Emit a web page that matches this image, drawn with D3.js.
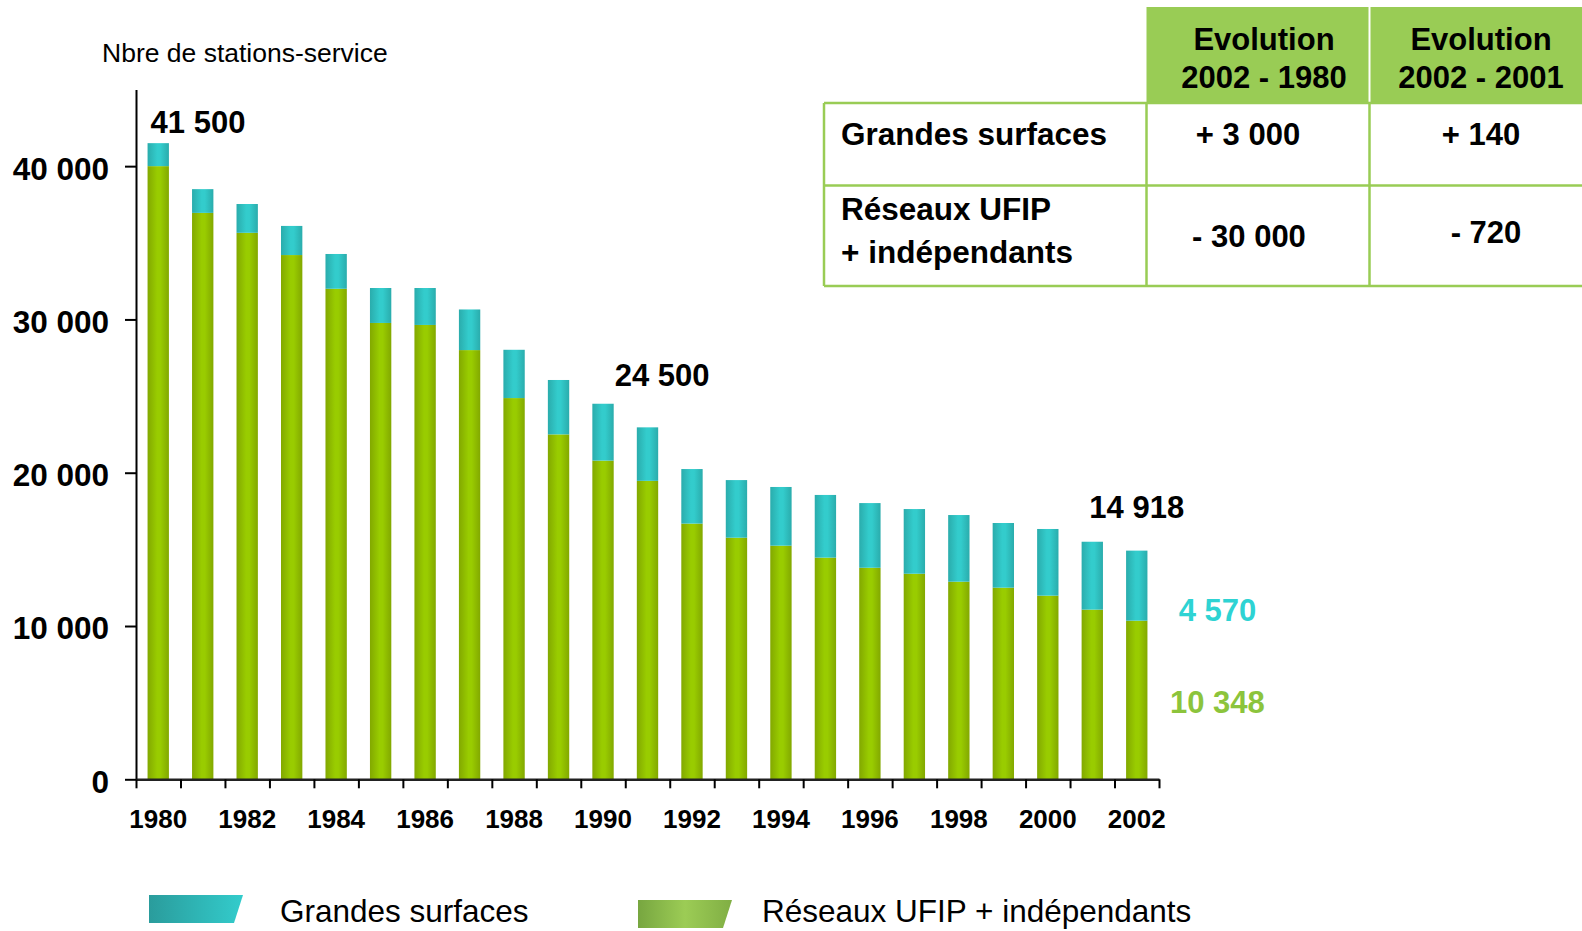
<!DOCTYPE html>
<html>
<head>
<meta charset="utf-8">
<script src="https://cdn.jsdelivr.net/npm/d3@7"></script>
<style>
  body { margin: 0; background: #ffffff; }
  text { font-family: "Liberation Sans", Arial, sans-serif; }
</style>
</head>
<body>
<div id="chart-area"></div>
<script>
// donnees
var years = ["1980", "1981", "1982", "1983", "1984", "1985", "1986", "1987", "1988", "1989", "1990", "1991",
  "1992", "1993", "1994", "1995", "1996", "1997", "1998", "1999", "2000", "2001", "2002"];
var reseaux = [40000, 36950, 35650, 34200, 32000, 29770, 29640, 28000, 24870, 22500, 20790, 19470,
  16680, 15760, 15240, 14460, 13800, 13410, 12890, 12500, 11980, 11068, 10348];
var grandes = [1500, 1550, 1880, 1900, 2270, 2280, 2410, 2650, 3150, 3550, 3710, 3490,
  3560, 3760, 3830, 4090, 4220, 4220, 4350, 4220, 4350, 4430, 4570];
var yTicks = [0, 10000, 20000, 30000, 40000];
var xLabels = ["1980", "1982", "1984", "1986", "1988", "1990", "1992", "1994", "1996", "1998", "2000", "2002"];
var seriesNames = ["Grandes surfaces", "Réseaux UFIP + indépendants"];

var colHeads = [["Evolution", "2002 - 1980"], ["Evolution", "2002 - 2001"]];
var rowHeads = [["Grandes surfaces"], ["Réseaux UFIP", "+ indépendants"]];
var evolutions = [["+ 3 000", "+ 140"], ["- 30 000", "- 720"]];

var W = 1582, H = 931;
var fr = d3.formatLocale({ decimal: ",", thousands: " ", grouping: [3], currency: ["", " €"] });
var fmt = fr.format(",");

var svg = d3.select("#chart-area")
  .append("svg")
  .attr("width", W)
  .attr("height", H);

var defs = svg.append("defs");
function hGrad(id, stops) {
  var g = defs.append("linearGradient").attr("id", id)
    .attr("x1", "0%").attr("x2", "100%").attr("y1", "0%").attr("y2", "0%");
  stops.forEach(function (s) {
    g.append("stop").attr("offset", s[0]).attr("stop-color", s[1]);
  });
}
hGrad("gGreen", [["0%", "#82a800"], ["45%", "#99cc00"], ["60%", "#99cc00"], ["100%", "#82a800"]]);
hGrad("gCyan", [["0%", "#2aacac"], ["45%", "#33cccc"], ["60%", "#33cccc"], ["100%", "#2aacac"]]);
hGrad("lCyan", [["0%", "#2a9c9c"], ["100%", "#33cccc"]]);
hGrad("lGreen", [["0%", "#77a640"], ["50%", "#9ccc55"], ["100%", "#80ae44"]]);

var colorFill = { reseaux: "url(#gGreen)", grandes: "url(#gCyan)" };

var rows = years.map(function (y, i) {
  return { year: y, reseaux: reseaux[i], grandes: grandes[i] };
});
var stacked = d3.stack().keys(["reseaux", "grandes"])(rows);

var xscale = d3.scaleBand()
  .domain(years)
  .range([136, 1159])
  .paddingInner(0.52)
  .paddingOuter(0.26);
var xIdx = d3.scaleLinear().domain([0, years.length]).range([136, 1159]);
var yscale = d3.scaleLinear().domain([0, 45000]).range([779.3, 89.5]);

// barres empilees
svg.append("g")
  .selectAll("g")
  .data(stacked)
  .enter()
  .append("g")
  .attr("fill", function (d) { return colorFill[d.key]; })
  .selectAll("rect")
  .data(function (d) { return d; })
  .enter()
  .append("rect")
  .attr("x", function (d) { return xscale(d.data.year); })
  .attr("width", xscale.bandwidth())
  .attr("y", function (d) { return yscale(d[1]); })
  .attr("height", function (d) { return yscale(d[0]) - yscale(d[1]); });

// axe Y
var yAxis = d3.axisLeft(yscale)
  .tickValues(yTicks)
  .tickSize(11)
  .tickSizeOuter(0)
  .tickPadding(16)
  .tickFormat(fmt);
var gy = svg.append("g").attr("transform", "translate(136,0)").call(yAxis);
gy.select(".domain").attr("stroke", "#000").attr("stroke-width", 2);
gy.selectAll(".tick line").attr("stroke", "#000").attr("stroke-width", 2);
gy.selectAll(".tick text")
  .attr("fill", "#000")
  .attr("font-size", "31.5px")
  .attr("font-weight", "bold")
  .attr("dy", "0.41em");

// axe X : graduations entre les annees
var xTickAxis = d3.axisBottom(xIdx)
  .tickValues(d3.range(0, years.length + 1))
  .tickSize(9)
  .tickSizeOuter(0)
  .tickFormat("");
var gx = svg.append("g").attr("transform", "translate(0,779.3)").call(xTickAxis);
gx.select(".domain").attr("stroke", "#222").attr("stroke-width", 2.5);
gx.selectAll(".tick line").attr("stroke", "#000").attr("stroke-width", 2);

var xAxis = d3.axisBottom(xscale)
  .tickValues(xLabels)
  .tickSize(0)
  .tickSizeOuter(0);
var gxl = svg.append("g").attr("transform", "translate(0,779.3)").call(xAxis);
gxl.select(".domain").remove();
gxl.selectAll(".tick text")
  .attr("y", 49)
  .attr("dy", 0)
  .attr("fill", "#000")
  .attr("font-size", "26px")
  .attr("font-weight", "bold");

// titre axe
svg.append("text")
  .attr("x", 102)
  .attr("y", 62)
  .attr("font-size", "26.5px")
  .attr("fill", "#000")
  .text("Nbre de stations-service");

// etiquettes de valeurs
var i80 = 0, i90 = years.indexOf("1990"), i02 = years.length - 1;
svg.append("text")
  .attr("x", xscale(years[i80]) + 3)
  .attr("y", yscale(reseaux[i80] + grandes[i80]) - 10)
  .attr("font-size", "31px").attr("font-weight", "bold").attr("fill", "#000")
  .text(fmt(41500));
svg.append("text")
  .attr("x", xscale(years[i90]) + xscale.bandwidth() + 1)
  .attr("y", yscale(24500) - 18)
  .attr("font-size", "31px").attr("font-weight", "bold").attr("fill", "#000")
  .text(fmt(24500));
svg.append("text")
  .attr("x", xscale(years[i02]) + xscale.bandwidth() / 2)
  .attr("y", yscale(reseaux[i02] + grandes[i02]) - 33)
  .attr("text-anchor", "middle")
  .attr("font-size", "31px").attr("font-weight", "bold").attr("fill", "#000")
  .text(fmt(reseaux[i02] + grandes[i02]));
svg.append("text")
  .attr("x", xscale(years[i02]) + xscale.bandwidth() + 70)
  .attr("y", yscale(reseaux[i02] + grandes[i02] / 2) + 35)
  .attr("text-anchor", "middle")
  .attr("font-size", "31px").attr("font-weight", "bold").attr("fill", "#2ed3d3")
  .text(fmt(grandes[i02]));
svg.append("text")
  .attr("x", xscale(years[i02]) + xscale.bandwidth() + 70)
  .attr("y", yscale(reseaux[i02] / 2) + 13)
  .attr("text-anchor", "middle")
  .attr("font-size", "31px").attr("font-weight", "bold").attr("fill", "#8cc43c")
  .text(fmt(reseaux[i02]));

// tableau d'evolution
var tbl = svg.append("g");
var colX = [824, 1146.5, 1369.5, W];
var rowY = [103, 185.5, 286];
var green = "#99cc55";
tbl.append("rect")
  .attr("x", colX[1]).attr("y", 7)
  .attr("width", W - colX[1]).attr("height", rowY[0] - 7)
  .attr("fill", green);
tbl.append("line")
  .attr("x1", colX[2]).attr("x2", colX[2]).attr("y1", 7).attr("y2", rowY[0])
  .attr("stroke", "#ffffff").attr("stroke-width", 2);
rowY.forEach(function (y) {
  tbl.append("line")
    .attr("x1", colX[0]).attr("x2", W).attr("y1", y).attr("y2", y)
    .attr("stroke", green).attr("stroke-width", 2.5);
});
colX.slice(0, 3).forEach(function (x) {
  tbl.append("line")
    .attr("x1", x).attr("x2", x).attr("y1", rowY[0]).attr("y2", rowY[2])
    .attr("stroke", green).attr("stroke-width", 2.5);
});

var colCx = [1264, 1481];
colHeads.forEach(function (lines, c) {
  lines.forEach(function (t, k) {
    tbl.append("text")
      .attr("x", colCx[c]).attr("y", 50 + k * 37.5)
      .attr("text-anchor", "middle")
      .attr("font-size", "31px").attr("font-weight", "bold").attr("fill", "#000")
      .text(t);
  });
});
var rowBase = [[145], [220, 263]];
rowHeads.forEach(function (lines, r) {
  lines.forEach(function (t, k) {
    tbl.append("text")
      .attr("x", 841).attr("y", rowBase[r][k])
      .attr("font-size", "31.5px").attr("font-weight", "bold").attr("fill", "#000")
      .text(t);
  });
});
var valBase = [[145, 145], [247, 243]];
var valCx = [[1248, 1481], [1249, 1486]];
evolutions.forEach(function (vals, r) {
  vals.forEach(function (t, c) {
    tbl.append("text")
      .attr("x", valCx[r][c]).attr("y", valBase[r][c])
      .attr("text-anchor", "middle")
      .attr("font-size", "31px").attr("font-weight", "bold").attr("fill", "#000")
      .text(t);
  });
});

// legende
var legend = svg.append("g");
var legX = [149, 638];
var legY = [895, 900];
var legFill = ["url(#lCyan)", "url(#lGreen)"];
var legTextX = [280, 762];
seriesNames.forEach(function (name, i) {
  var x0 = legX[i], y0 = legY[i];
  legend.append("path")
    .attr("d", "M" + x0 + "," + y0 + " L" + (x0 + 94) + "," + y0 + " L" + (x0 + 85) + "," + (y0 + 28) +
      " L" + x0 + "," + (y0 + 28) + " Z")
    .attr("fill", legFill[i]);
  legend.append("text")
    .attr("x", legTextX[i]).attr("y", 922)
    .attr("font-size", "31.5px").attr("fill", "#000")
    .text(name);
});
</script>
</body>
</html>
